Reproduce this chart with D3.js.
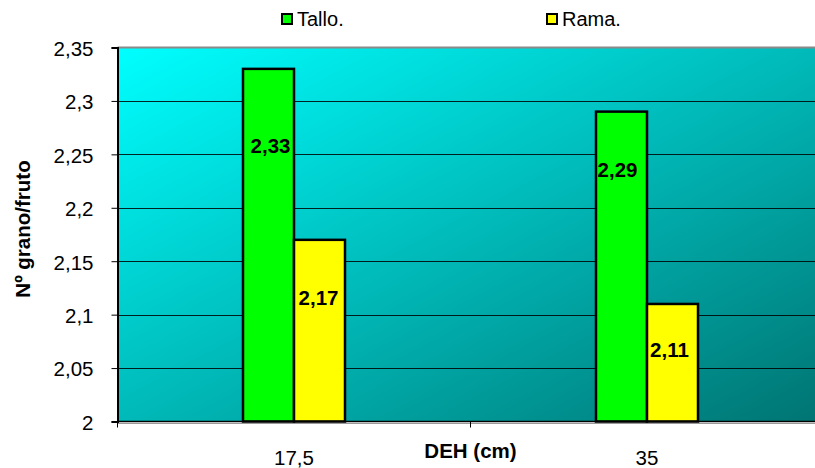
<!DOCTYPE html>
<html>
<head>
<meta charset="utf-8">
<script src="https://cdn.jsdelivr.net/npm/d3@7"></script>
<style>
  html, body { margin: 0; padding: 0; background: #fff; }
  svg { display: block; font-family: "Liberation Sans", Arial, sans-serif; }
</style>
</head>
<body>
<svg id="chart" width="815" height="468"></svg>
<script>
// Categories (DEH, cm) and the two series
const categories = ["17,5", "35"];
const seriesNames = ["Tallo.", "Rama."];
const tallo = [2.33, 2.29];
const rama = [2.17, 2.11];
const yTicks = [2, 2.05, 2.1, 2.15, 2.2, 2.25, 2.3, 2.35];

const colors = { "Tallo.": "#00FF00", "Rama.": "#FFFF00" };
const fmt = v => String(v).replace(".", ",");

// Placement of each value label inside its bar (baseline px below bar top, x nudge)
const labelDrop = { "Tallo.": [84, 65], "Rama.": [65, 53] };
const labelShift = { "Tallo.": [2, -4], "Rama.": [-1, -3] };

const svg = d3.select("#chart");
const m = { left: 117.5, top: 47.5, right: 823.5, bottom: 421.5 };

const x = d3.scaleBand().domain(categories).range([m.left, m.right]);
const xs = d3.scaleBand().domain(seriesNames).range([0, 102]);
const y = d3.scaleLinear().domain([2, 2.35]).range([m.bottom, m.top]);

// Plot-area gradient
const defs = svg.append("defs");
const grad = defs.append("linearGradient").attr("id", "bg")
  .attr("x1", "0").attr("y1", "0").attr("x2", "1").attr("y2", "1");
grad.append("stop").attr("offset", "0").attr("stop-color", "#00FFFF");
grad.append("stop").attr("offset", "1").attr("stop-color", "#007472");

svg.append("rect")
  .attr("x", m.left).attr("y", m.top)
  .attr("width", m.right - m.left).attr("height", m.bottom - m.top)
  .attr("fill", "url(#bg)");

// Plot border: top and bottom
svg.append("line").attr("x1", m.left).attr("x2", m.right)
  .attr("y1", m.top).attr("y2", m.top)
  .attr("stroke", "#8a8a8a").attr("stroke-width", 2);
svg.append("line").attr("x1", m.left).attr("x2", m.right)
  .attr("y1", m.bottom + 2).attr("y2", m.bottom + 2)
  .attr("stroke", "#9a9a9a").attr("stroke-width", 1);

// Gridlines
svg.append("g").selectAll("line")
  .data(yTicks.filter(t => t > 2 && t < 2.35))
  .join("line")
  .attr("x1", m.left).attr("x2", m.right)
  .attr("y1", d => Math.round(y(d)) + 0.5).attr("y2", d => Math.round(y(d)) + 0.5)
  .attr("stroke", "#000").attr("stroke-opacity", 0.85).attr("stroke-width", 1);

// Bars
const groups = svg.append("g").selectAll("g")
  .data(categories.map((c, i) => ({ c, i, vals: [
    { s: "Tallo.", v: tallo[i] }, { s: "Rama.", v: rama[i] }] })))
  .join("g")
  .attr("transform", d => `translate(${x(d.c) + x.bandwidth() / 2 - 51},0)`);

groups.selectAll("rect")
  .data(d => d.vals)
  .join("rect")
  .attr("x", d => xs(d.s))
  .attr("width", xs.bandwidth())
  .attr("y", d => y(d.v))
  .attr("height", d => y(2) - y(d.v))
  .attr("fill", d => colors[d.s])
  .attr("stroke", "#000").attr("stroke-width", 2.5);

groups.selectAll("text")
  .data(d => d.vals.map(v => ({ ...v, i: d.i })))
  .join("text")
  .attr("x", d => xs(d.s) + xs.bandwidth() / 2 + labelShift[d.s][d.i])
  .attr("y", d => y(d.v) + labelDrop[d.s][d.i])
  .attr("text-anchor", "middle")
  .attr("font-size", 20.5).attr("font-weight", "bold")
  .text(d => fmt(d.v));

// Y axis
const yAxis = d3.axisLeft(y).tickValues(yTicks).tickFormat(fmt)
  .tickSize(6).tickPadding(18);
const ya = svg.append("g").attr("transform", `translate(${m.left},0)`).call(yAxis);
ya.select(".domain").attr("stroke", "#000").attr("stroke-width", 2);
ya.selectAll(".tick line").attr("stroke", "#000");
ya.selectAll(".tick text").attr("font-size", 20.5).attr("fill", "#000")
  .attr("font-family", "Liberation Sans, Arial, sans-serif").attr("dy", "0.38em");

// X axis: ticks between categories
const xa = svg.append("g").attr("transform", `translate(0,${m.bottom})`);
xa.append("line").attr("x1", m.left).attr("x2", m.right)
  .attr("y1", 0).attr("y2", 0).attr("stroke", "#000").attr("stroke-width", 1.5);
xa.selectAll("line.tk")
  .data(categories.map(c => x(c)).concat([m.right]))
  .join("line").attr("class", "tk")
  .attr("x1", d => d).attr("x2", d => d)
  .attr("y1", 0).attr("y2", 6).attr("stroke", "#000");
xa.selectAll("text")
  .data(categories)
  .join("text")
  .attr("x", d => x(d) + x.bandwidth() / 2)
  .attr("y", 43.5)
  .attr("text-anchor", "middle")
  .attr("font-size", 20.5)
  .text(d => d);

// Axis titles
svg.append("text")
  .attr("x", (m.left + m.right) / 2).attr("y", 458)
  .attr("text-anchor", "middle")
  .attr("font-size", 20.5).attr("font-weight", "bold")
  .text("DEH (cm)");
svg.append("text")
  .attr("transform", "translate(30,229) rotate(-90)")
  .attr("text-anchor", "middle")
  .attr("font-size", 20.5).attr("font-weight", "bold")
  .text("Nº grano/fruto");

// Legend
const legendX = [282, 547];
const lg = svg.append("g").selectAll("g")
  .data(seriesNames)
  .join("g")
  .attr("transform", (d, i) => `translate(${legendX[i]},14)`);
lg.append("rect")
  .attr("width", 10).attr("height", 10)
  .attr("fill", d => colors[d])
  .attr("stroke", "#000").attr("stroke-width", 2);
lg.append("text")
  .attr("x", 15).attr("y", 12)
  .attr("font-size", 20)
  .text(d => d);
</script>
</body>
</html>
